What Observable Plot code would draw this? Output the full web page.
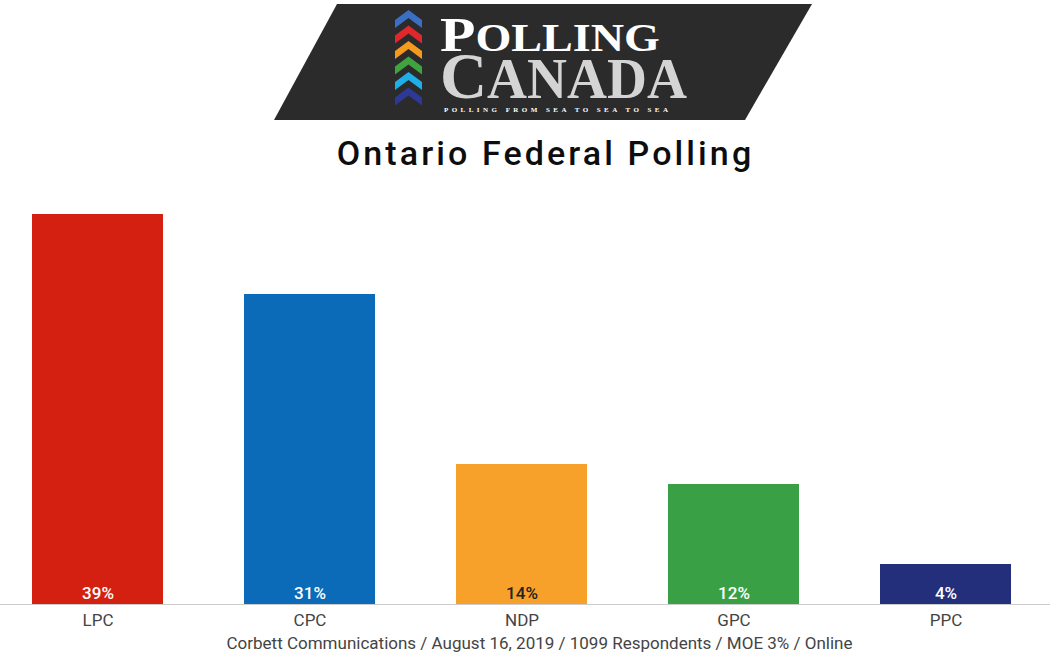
<!DOCTYPE html>
<html>
<head>
<meta charset="utf-8">
<script src="https://cdn.jsdelivr.net/npm/d3@7"></script>
<script src="https://cdn.jsdelivr.net/npm/@observablehq/plot@0.6"></script>
<style>
  html, body { margin: 0; padding: 0; background: #fff; width: 1050px; height: 658px; overflow: hidden; }
  #logo { position: absolute; left: 0; top: 0; width: 1050px; height: 124px; }
  #title { position: absolute; left: 0; top: 128px; width: 1091px; text-align: center;
           font-family: Roboto, sans-serif; font-weight: 500; font-size: 34px; letter-spacing: 3.1px; color: #0d0d0d; line-height: 50px; }
  #chart { position: absolute; left: 0; top: 180px; }
  #caption { position: absolute; left: 0; top: 631px; width: 1079px; text-align: center;
             font-family: Roboto, sans-serif; font-size: 17px; color: #444; line-height: 24px; }
</style>
</head>
<body>
<svg id="logo" viewBox="0 0 1050 124">
  <polygon points="337,4 812,4 745,120 274,120" fill="#2b2b2b"/>
  <g id="chevrons"></g>
  <text x="440" y="51" font-family="'Liberation Serif', 'DejaVu Serif', serif" font-weight="bold" fill="#ffffff" textLength="220" lengthAdjust="spacingAndGlyphs"><tspan font-size="49">P</tspan><tspan font-size="39">OLLING</tspan></text>
  <text x="440" y="98" font-family="'Liberation Serif', 'DejaVu Serif', serif" font-weight="bold" fill="#d4d4d4" textLength="247" lengthAdjust="spacingAndGlyphs"><tspan font-size="66">C</tspan><tspan font-size="56">ANADA</tspan></text>
  <text x="444" y="112" font-family="'Liberation Serif', 'DejaVu Serif', serif" font-weight="bold" font-size="7" fill="#ffffff" textLength="224" lengthAdjust="spacing">POLLING FROM SEA TO SEA TO SEA</text>
</svg>
<div id="title">Ontario Federal Polling</div>
<div id="chart"></div>
<div id="caption">Corbett Communications / August 16, 2019 / 1099 Respondents / MOE 3% / Online</div>
<script>
const parties = ["LPC", "CPC", "NDP", "GPC", "PPC"];
const values = [39, 31, 14, 12, 4];
const colors = ["#d42010", "#0b6bb8", "#f7a12a", "#3aa046", "#232f7b"];
const labelColors = ["#ffffff", "#ffffff", "#222222", "#ffffff", "#ffffff"];

// logo chevrons (decoration)
const chevColors = ["#3a6fc4", "#e0282c", "#f39a1f", "#3fa33f", "#1eaee8", "#2c3a96"];
const chev = document.getElementById("chevrons");
chevColors.forEach((c, i) => {
  const y0 = 10 + i * 15.5, cx = 408.5, hw = 13.5;
  const p = document.createElementNS("http://www.w3.org/2000/svg", "polygon");
  p.setAttribute("points", `${cx-hw},${y0+10} ${cx},${y0} ${cx+hw},${y0+10} ${cx+hw},${y0+18} ${cx},${y0+8} ${cx-hw},${y0+18}`);
  p.setAttribute("fill", c);
  chev.appendChild(p);
});

const data = parties.map((p, i) => ({party: p, value: values[i], color: colors[i], label: labelColors[i]}));

const chart = Plot.plot({
  width: 1050,
  height: 452,
  marginTop: 34,
  marginBottom: 28,
  marginLeft: 0,
  marginRight: 0,
  style: {fontFamily: "Roboto, sans-serif", background: "transparent"},
  x: {domain: parties, range: [-8.5, 1051.5], paddingInner: 0.382, paddingOuter: 0.191, label: null},
  y: {domain: [0, d3.max(values)], axis: null},
  marks: [
    Plot.barY(data, {x: "party", y: "value", fill: "color"}),
    Plot.ruleY([0], {stroke: "#cccccc", strokeWidth: 1}),
    Plot.text(data, {x: "party", y: 0, text: d => d.value + "%", fill: "label", dy: -11, fontSize: 17, fontWeight: 500}),
    Plot.axisX({tickSize: 0, tickPadding: 9, fontSize: 17, color: "#444", label: null})
  ]
});
document.getElementById("chart").appendChild(chart);
</script>
</body>
</html>
